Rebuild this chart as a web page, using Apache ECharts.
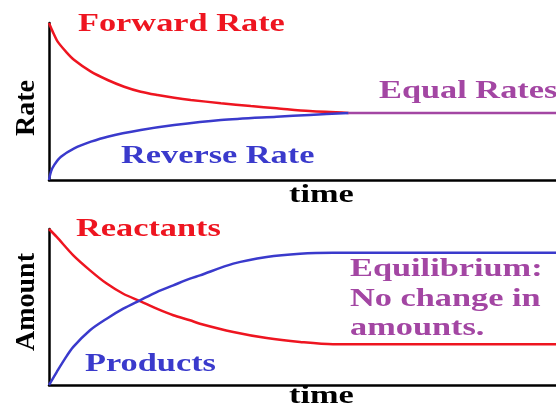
<!DOCTYPE html>
<html>
<head>
<meta charset="utf-8">
<script src="https://cdn.jsdelivr.net/npm/echarts@6/dist/echarts.min.js"></script>
<style>
html,body{margin:0;padding:0;background:#fff;}
#c{width:556px;height:413px;}
</style>
</head>
<body>
<div id="c"></div>
<script>
// Top panel: rates vs time
const fwdTime = [0, 0.73, 1.71, 3.35, 4.98, 8.27, 11.56, 14.82, 18.1, 21.4, 24.7, 27.95, 33.9, 39.8, 44.9, 51.4, 59.1];
const fwdRate = [100, 94.5, 88.1, 81.7, 76.4, 69.0, 63.7, 59.4, 56.2, 54.1, 52.4, 51.0, 48.9, 47.1, 45.7, 43.9, 42.7];
const revTime = [0, 0.39, 1.04, 2.36, 4.98, 8.27, 11.56, 18.1, 24.7, 33.9, 44.9, 51.4, 59.1];
const revRate = [0, 5.3, 9.6, 14.8, 20.2, 24.4, 27.6, 31.8, 35.0, 38.2, 40.3, 41.4, 42.7];
const eqTime = [59.1, 100];
const eqRate = [42.7, 42.7];
// Bottom panel: amounts vs time
const reactTime = [0, 1.52, 4.79, 8.09, 11.38, 14.65, 17.95, 21.24, 24.52, 27.81, 29.78, 36.35, 42.94, 49.5, 56.0, 100];
const reactAmt = [100, 94.9, 83.1, 73.5, 65.0, 58.5, 53.8, 48.9, 44.7, 41.5, 39.3, 34.0, 30.1, 27.6, 26.1, 26.1];
const prodTime = [0, 1.52, 3.16, 4.79, 8.09, 11.38, 14.65, 17.95, 21.24, 24.52, 27.81, 29.78, 36.35, 42.94, 49.5, 56.0, 100];
const prodAmt = [0, 8.3, 16.9, 24.4, 35.1, 42.5, 48.9, 54.3, 59.6, 63.9, 68.2, 70.3, 77.8, 82.1, 84.2, 84.8, 84.8];

const RED = '#ee1520', BLUE = '#3a3acc', PURPLE = '#a346a3';
const zip = (a, b) => a.map((v, i) => [v, b[i]]);

const chart = echarts.init(document.getElementById('c'), null, {renderer: 'canvas'});
const axisBase = {
  type: 'value', min: 0, max: 100,
  axisLine: {show: true, onZero: false, lineStyle: {color: '#000', width: 2.5}},
  axisTick: {show: false}, axisLabel: {show: false}, splitLine: {show: false}
};
const font = 'bold 26px "Liberation Serif", "Times New Roman", serif';
const axFont = 'bold 28px "Liberation Serif", "Times New Roman", serif';
function txt(text, x, y, fill, sx, f) {
  return {type: 'text', x: x, y: y, scaleX: sx, silent: true,
    style: {text: text, font: f || font, fill: fill, textAlign: 'left', textVerticalAlign: 'middle', align: 'left', verticalAlign: 'middle'}};
}
function vtxt(text, x, y) {
  return {type: 'text', x: x, y: y, rotation: Math.PI / 2, silent: true,
    style: {text: text, font: axFont, fill: '#000', textAlign: 'center', textVerticalAlign: 'middle', align: 'center', verticalAlign: 'middle'}};
}
const lineS = (name, data, color, xi) => ({
  name: name, type: 'line', xAxisIndex: xi, yAxisIndex: xi, data: data,
  smooth: 0.3, showSymbol: false, symbol: 'none',
  lineStyle: {color: color, width: 2.5}, silent: true, animation: false
});

chart.setOption({
  animation: false,
  grid: [
    {left: 49, right: 0, top: 23, height: 157},
    {left: 49, right: 0, top: 229, height: 156}
  ],
  xAxis: [Object.assign({gridIndex: 0}, axisBase), Object.assign({gridIndex: 1}, axisBase)],
  yAxis: [Object.assign({gridIndex: 0}, axisBase), Object.assign({gridIndex: 1}, axisBase)],
  series: [
    lineS('Forward Rate', zip(fwdTime, fwdRate), RED, 0),
    lineS('Reverse Rate', zip(revTime, revRate), BLUE, 0),
    lineS('Equal Rates', zip(eqTime, eqRate), PURPLE, 0),
    lineS('Reactants', zip(reactTime, reactAmt), RED, 1),
    lineS('Products', zip(prodTime, prodAmt), BLUE, 1)
  ],
  graphic: [
    txt('Forward Rate', 78, 24, RED, 1.32),
    txt('Reverse Rate', 121, 156, BLUE, 1.32),
    txt('Equal Rates', 379, 91, PURPLE, 1.32),
    txt('time', 289, 195, '#000', 1.32),
    txt('Reactants', 76, 229, RED, 1.32),
    txt('Products', 85, 364, BLUE, 1.32),
    txt('Equilibrium:', 350, 269, PURPLE, 1.32),
    txt('No change in', 350, 299, PURPLE, 1.32),
    txt('amounts.', 350, 328, PURPLE, 1.32),
    txt('time', 289, 396, '#000', 1.32),
    vtxt('Rate', 27, 108),
    vtxt('Amount', 27, 302)
  ]
});
</script>
</body>
</html>
